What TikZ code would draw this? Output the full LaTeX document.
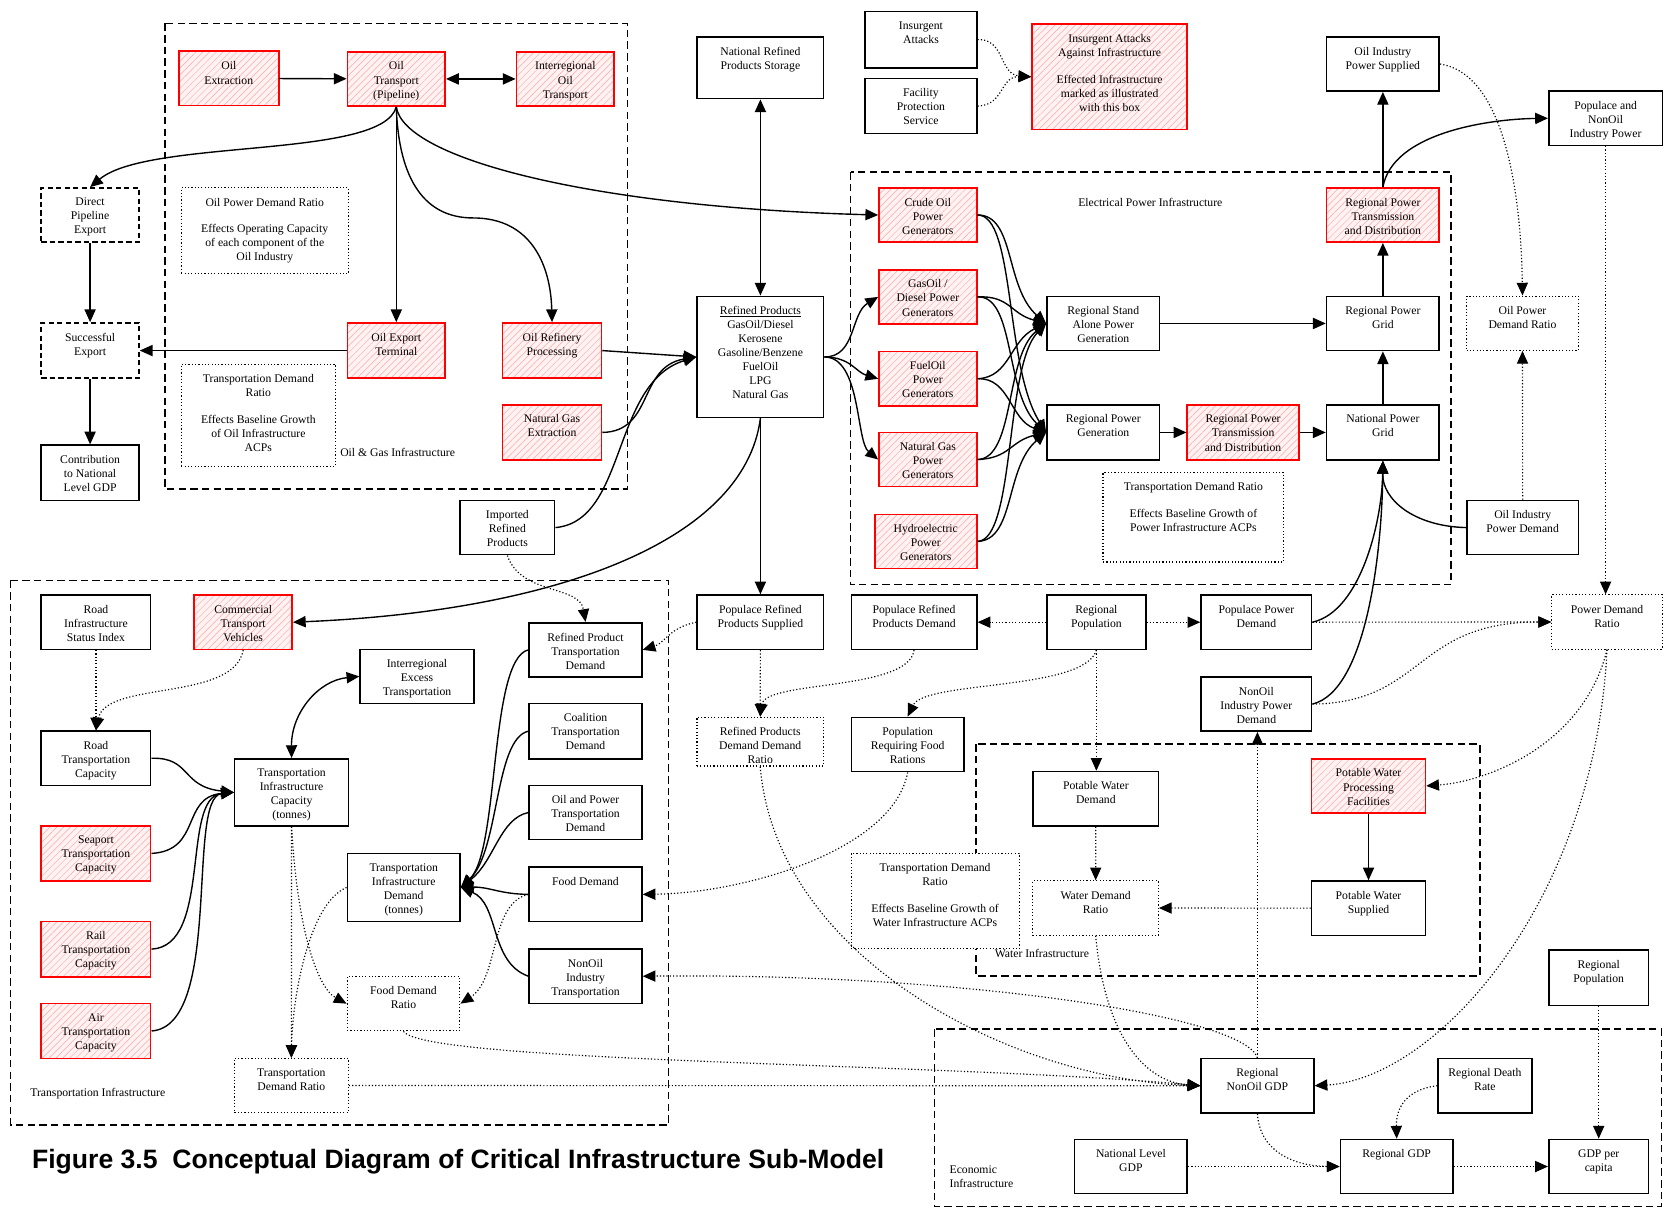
\documentclass[tikz,border=0pt]{standalone}
\usepackage{fontspec}
\setmainfont{Liberation Serif}
\newfontfamily\titlefont{Liberation Sans}
\usetikzlibrary{arrows.meta,patterns.meta}
\tikzset{
 bx/.style={draw, line width=1.5pt, fill=white, inner sep=0pt},
 rbx/.style={draw=red, line width=1.5pt, preaction={fill=red!5}, pattern={Lines[angle=45,distance=4.5pt,line width=0.45pt]}, pattern color=red!35, inner sep=0pt},
 dbx/.style={draw, line width=1.5pt, dash pattern=on 5pt off 3pt, fill=white, inner sep=0pt},
 obx/.style={draw, line width=1.1pt, dotted, fill=white, inner sep=0pt},
 txt/.style={align=center, inner sep=0pt, font=\fontsize{11}{13.2}\selectfont},
 region/.style={line width=1.4pt, dash pattern=on 7pt off 4pt},
 con/.style={line width=1.3pt, -{Triangle[length=12pt,width=10.5pt]}},
 bicon/.style={line width=1.3pt, {Triangle[length=12pt,width=10.5pt]}-{Triangle[length=12pt,width=10.5pt]}},
 dcon/.style={line width=1.1pt, dotted, -{Triangle[length=12pt,width=10.5pt]}},
}
\newcommand\bxx[7]{%
 \node[#6, anchor=north west, minimum width={(#4)-(#2)}, minimum height={(#5)-(#3)}] (#1) at (#2,#3) {};
 \node[txt, anchor=north] at ([yshift=-10pt]#1.north) {#7};}
\begin{document}
\begin{tikzpicture}[x=1pt,y=-1pt]
\useasboundingbox (0,0) rectangle (1568,1137);
% regions
\draw[region] (155,22) rectangle (590,460);
\draw[region] (800,162) rectangle (1365,550);
\draw[region] (10,546) rectangle (629,1058);
\draw[region] (918,700) rectangle (1392,918);
\draw[region] (879,968) rectangle (1563,1135);
% region labels
\node[txt] (lbloil) at (374,426) {Oil \& Gas Infrastructure};
\node[txt] (lblel) at (1082,190) {Electrical Power Infrastructure};
\node[txt] (lblwa) at (980,897) {Water Infrastructure};
\node[txt] (lbltr) at (92,1029) {Transportation Infrastructure};
\node[txt, align=left, anchor=west] (lblec) at (893,1107) {Economic\\Infrastructure};
% oil
\bxx{oe}{168}{48}{262}{99}{rbx}{Oil\\Extraction}
\bxx{ot}{326}{48}{418}{99}{rbx}{Oil\\Transport\\(Pipeline)}
\bxx{iot}{485}{48}{577}{99}{rbx}{Interregional\\Oil\\Transport}
\bxx{opdn}{170}{176}{327}{257}{obx}{Oil Power Demand Ratio\\[12pt]Effects Operating Capacity\\of each component of the\\Oil Industry}
\bxx{oet}{326}{303}{418}{355}{rbx}{Oil Export\\Terminal}
\bxx{orp}{472}{303}{565}{355}{rbx}{Oil Refinery\\Processing}
\bxx{tdn1}{170}{342}{315}{438}{obx}{Transportation Demand\\Ratio\\[12pt]Effects Baseline Growth\\of Oil Infrastructure\\ACPs}
\bxx{nge}{472}{380}{565}{432}{rbx}{Natural Gas\\Extraction}
\bxx{dpe}{38}{176}{130}{227}{dbx}{Direct\\Pipeline\\Export}
\bxx{se}{38}{303}{130}{355}{dbx}{Successful\\Export}
\bxx{cng}{38}{418}{130}{470}{bx}{Contribution\\to National\\Level GDP}
\bxx{nrps}{655}{34}{774}{92}{bx}{National Refined\\Products Storage}
\node[bx, anchor=north west, minimum width=119, minimum height=114] (rp) at (655,278) {};
\node[txt, anchor=north] (rptxt) at ([yshift=-10pt]rp.north) {\underline{Refined Products}\\GasOil/Diesel\\Kerosene\\Gasoline/Benzene\\FuelOil\\LPG\\Natural Gas};
\bxx{ia}{813}{10}{918}{63}{bx}{Insurgent\\Attacks}
\bxx{fps}{813}{73}{918}{125}{bx}{Facility\\Protection\\Service}
\bxx{iaai}{970}{22}{1116}{121}{rbx}{Insurgent Attacks\\Against Infrastructure\\[12pt]Effected Infrastructure\\marked as illustrated\\with this box}
% electrical
\bxx{cog}{826}{176}{918}{227}{rbx}{Crude Oil\\Power\\Generators}
\bxx{gog}{826}{253}{918}{304}{rbx}{GasOil /\\Diesel Power\\Generators}
\bxx{fog}{826}{330}{918}{381}{rbx}{FuelOil\\Power\\Generators}
\bxx{ngg}{826}{406}{918}{457}{rbx}{Natural Gas\\Power\\Generators}
\bxx{hyg}{822}{483}{918}{534}{rbx}{Hydroelectric\\Power\\Generators}
\bxx{rsa}{984}{278}{1090}{329}{bx}{Regional Stand\\Alone Power\\Generation}
\bxx{rpgen}{984}{380}{1090}{432}{bx}{Regional Power\\Generation}
\bxx{rptd1}{1116}{380}{1221}{432}{rbx}{Regional Power\\Transmission\\and Distribution}
\bxx{npg}{1247}{380}{1353}{432}{bx}{National Power\\Grid}
\bxx{rpgrid}{1247}{278}{1353}{329}{bx}{Regional Power\\Grid}
\bxx{rptd2}{1247}{176}{1353}{227}{rbx}{Regional Power\\Transmission\\and Distribution}
\bxx{pn}{1037}{444}{1207}{528}{obx}{Transportation Demand Ratio\\[12pt]Effects Baseline Growth of\\Power Infrastructure ACPs}
\bxx{oips}{1247}{34}{1353}{85}{bx}{Oil Industry\\Power Supplied}
\bxx{pnip}{1456}{85}{1563}{136}{bx}{Populace and\\NonOil\\Industry Power}
\bxx{opdr}{1379}{278}{1484}{329}{obx}{Oil Power\\Demand Ratio}
\bxx{oipd}{1379}{470}{1484}{521}{bx}{Oil Industry\\Power Demand}
\bxx{pdr}{1459}{559}{1563}{610}{obx}{Power Demand\\Ratio}
% middle rows
\bxx{irp}{432}{470}{521}{521}{bx}{Imported\\Refined\\Products}
\bxx{prps}{655}{559}{774}{610}{bx}{Populace Refined\\Products Supplied}
\bxx{prpd}{800}{559}{918}{610}{bx}{Populace Refined\\Products Demand}
\bxx{regpop}{984}{559}{1077}{610}{bx}{Regional\\Population}
\bxx{ppd}{1129}{559}{1233}{610}{bx}{Populace Power\\Demand}
\bxx{nipd}{1129}{636}{1233}{687}{bx}{NonOil\\Industry Power\\Demand}
\bxx{rpddr}{655}{674}{774}{720}{obx}{Refined Products\\Demand Demand\\Ratio}
\bxx{prfr}{800}{674}{906}{725}{bx}{Population\\Requiring Food\\Rations}
% water
\bxx{pwd}{971}{725}{1089}{776}{bx}{Potable Water\\Demand}
\bxx{pwpf}{1233}{713}{1340}{764}{rbx}{Potable Water\\Processing\\Facilities}
\bxx{wdr}{971}{828}{1089}{879}{obx}{Water Demand\\Ratio}
\bxx{pws}{1233}{828}{1340}{879}{bx}{Potable Water\\Supplied}
\bxx{wn}{800}{802}{958}{892}{obx}{Transportation Demand\\Ratio\\[12pt]Effects Baseline Growth of\\Water Infrastructure ACPs}
% transport
\bxx{risi}{38}{559}{141}{610}{bx}{Road\\Infrastructure\\Status Index}
\bxx{ctv}{182}{559}{274}{610}{rbx}{Commercial\\Transport\\Vehicles}
\bxx{rtc}{38}{687}{141}{738}{bx}{Road\\Transportation\\Capacity}
\bxx{sea}{38}{776}{141}{828}{rbx}{Seaport\\Transportation\\Capacity}
\bxx{rail}{38}{866}{141}{918}{rbx}{Rail\\Transportation\\Capacity}
\bxx{air}{38}{943}{141}{995}{rbx}{Air\\Transportation\\Capacity}
\bxx{iet}{338}{610}{445}{661}{bx}{Interregional\\Excess\\Transportation}
\bxx{tic}{220}{713}{327}{776}{bx}{Transportation\\Infrastructure\\Capacity\\(tonnes)}
\bxx{tid}{326}{802}{432}{866}{bx}{Transportation\\Infrastructure\\Demand\\(tonnes)}
\bxx{fdr}{326}{918}{432}{969}{obx}{Food Demand\\Ratio}
\bxx{tdr}{220}{995}{327}{1046}{obx}{Transportation\\Demand Ratio}
\bxx{rptdm}{497}{585}{603}{636}{bx}{Refined Product\\Transportation\\Demand}
\bxx{ctd}{497}{661}{603}{713}{bx}{Coalition\\Transportation\\Demand}
\bxx{optd}{497}{738}{603}{789}{bx}{Oil and Power\\Transportation\\Demand}
\bxx{fd}{497}{815}{603}{866}{bx}{Food Demand}
\bxx{noit}{497}{892}{603}{943}{bx}{NonOil\\Industry\\Transportation}
% economic
\bxx{rng}{1129}{995}{1235}{1046}{bx}{Regional\\NonOil GDP}
\bxx{rdr}{1352}{995}{1440}{1046}{bx}{Regional Death\\Rate}
\bxx{nlg}{1010}{1071}{1116}{1122}{bx}{National Level\\GDP}
\bxx{rgdp}{1260}{1071}{1366}{1122}{bx}{Regional GDP}
\bxx{gdppc}{1456}{1071}{1550}{1122}{bx}{GDP per\\capita}
\bxx{regpop2}{1456}{893}{1550}{945}{bx}{Regional\\Population}
% title
\node[anchor=west, inner sep=0pt, font=\titlefont\bfseries\fontsize{25}{30}\selectfont] (title) at (30,1093) {Figure 3.5~~Conceptual Diagram of Critical Infrastructure Sub-Model};
% ---------- connectors: oil
\draw[con] (oe) -- (ot);
\draw[bicon] (ot) -- (iot);
\draw[con] (ot.south) .. controls (360,150) and (140,130) .. (dpe.north);
\draw[con] (ot.south) -- (oet.north);
\draw[con] (ot.south) .. controls (375,170) and (400,205) .. (445,205) .. controls (500,205) and (518,250) .. (orp.north);
\draw[con] (ot.south) .. controls (380,150) and (560,195) .. (cog.west);
\draw[con] (oet.west) -- (se.east);
\draw[con] (dpe) -- (se);
\draw[con] (se) -- (cng);
\draw[con] (orp.east) -- (rp.west);
\draw[con] (nge.east) .. controls (615,406) and (600,345) .. (rp.west);
\draw[con] (irp.east) .. controls (590,490) and (575,360) .. (rp.west);
\draw[bicon] (nrps) -- (rp);
\draw[con] (rp) -- (prps);
\draw[con] (rp.south) .. controls (700,510) and (520,575) .. (ctv.east);
\draw[con] (rp.east) .. controls (805,336) and (800,295) .. (gog.west);
\draw[con] (rp.east) .. controls (800,336) and (805,350) .. (fog.west);
\draw[con] (rp.east) .. controls (810,336) and (805,415) .. (ngg.west);
% ---------- electrical
\draw[con] (cog.east) .. controls (955,202) and (945,270) .. (rsa.west);
\draw[con] (cog.east) .. controls (955,202) and (945,345) .. (rpgen.west);
\draw[con] (gog.east) .. controls (950,278) and (950,295) .. (rsa.west);
\draw[con] (gog.east) .. controls (955,278) and (945,370) .. (rpgen.west);
\draw[con] (fog.east) .. controls (950,355) and (950,320) .. (rsa.west);
\draw[con] (fog.east) .. controls (950,355) and (950,395) .. (rpgen.west);
\draw[con] (ngg.east) .. controls (955,431) and (945,335) .. (rsa.west);
\draw[con] (ngg.east) .. controls (950,431) and (950,415) .. (rpgen.west);
\draw[con] (hyg.east) .. controls (955,508) and (945,345) .. (rsa.west);
\draw[con] (hyg.east) .. controls (955,508) and (945,440) .. (rpgen.west);
\draw[con] (rsa) -- (rpgrid);
\draw[con] (rpgen) -- (rptd1);
\draw[con] (rptd1) -- (npg);
\draw[con] (npg) -- (rpgrid);
\draw[con] (rpgrid) -- (rptd2);
\draw[con] (rptd2) -- (oips);
\draw[con] (rptd2.north) .. controls (1310,125) and (1400,112) .. (pnip.west);
\draw[dcon] (oips.east) .. controls (1420,70) and (1431,200) .. (opdr.north);
\draw[dcon] (oipd) -- (opdr);
\draw[con] (oipd.west) .. controls (1330,495) and (1300,470) .. (npg.south);
\draw[con] (ppd.east) .. controls (1280,575) and (1300,490) .. (npg.south);
\draw[con] (nipd.east) .. controls (1285,650) and (1300,520) .. (npg.south);
\draw[dcon] (pnip.south) -- (pnip.south |- pdr.north);
\draw[dcon] (ppd) -- (pdr);
\draw[dcon] (nipd.east) .. controls (1340,661) and (1330,585) .. (pdr.west);
% ---------- population / water
\draw[dcon] (regpop) -- (ppd);
\draw[dcon] (regpop) -- (prpd);
\draw[dcon] (regpop.south) .. controls (1020,650) and (870,640) .. (prfr.north);
\draw[dcon] (regpop.south) -- (regpop.south |- pwd.north);
\draw[dcon] (pdr.south) .. controls (1490,700) and (1400,735) .. (pwpf.east);
\draw[dcon] (pdr.south) .. controls (1500,850) and (1350,1015) .. (rng.east);
\draw[con] (pwpf) -- (pws);
\draw[dcon] (pws) -- (wdr);
\draw[dcon] (pwd) -- (wdr);
\draw[dcon] (wdr.south) .. controls (1040,980) and (1080,1018) .. (rng.west);
\draw[dcon] (rng.north) -- (rng.north |- nipd.south);
\draw[dcon] (rng.north) .. controls (1170,955) and (900,915) .. (noit.east);
\draw[dcon] (rpddr.south) .. controls (730,900) and (950,1015) .. (rng.west);
\draw[dcon] (prfr.south) .. controls (840,800) and (700,840) .. (fd.east);
\draw[dcon] (prps) -- (rpddr);
\draw[dcon] (prpd.south) .. controls (855,650) and (720,640) .. (rpddr.north);
\draw[dcon] (prps.west) .. controls (630,590) and (625,605) .. (rptdm.east);
\draw[dcon] (irp.south) .. controls (490,560) and (545,550) .. (rptdm.north);
\draw[dcon] (fdr.south) .. controls (400,1000) and (900,1000) .. (rng.west);
\draw[dcon] (tdr) -- (rng);
% ---------- economic
\draw[dcon] (nlg) -- (rgdp);
\draw[dcon] (rgdp) -- (gdppc);
\draw[dcon] (rng.south) .. controls (1185,1085) and (1220,1097) .. (rgdp.west);
\draw[dcon] (rdr.west) .. controls (1320,1025) and (1313,1045) .. (rgdp.north);
\draw[dcon] (regpop2) -- (gdppc);
\draw[dcon] (ia.east) .. controls (945,36) and (940,70) .. (iaai.west);
\draw[dcon] (fps.east) .. controls (945,99) and (940,72) .. (iaai.west);
% ---------- transport
\draw[dcon] (risi) -- (rtc);
\draw[dcon] (ctv.south) .. controls (220,660) and (100,640) .. (rtc.north);
\draw[con] (rtc.east) .. controls (180,712) and (170,740) .. (tic.west);
\draw[con] (sea.east) .. controls (190,800) and (170,750) .. (tic.west);
\draw[con] (rail.east) .. controls (200,890) and (170,750) .. (tic.west);
\draw[con] (air.east) .. controls (210,965) and (175,750) .. (tic.west);
\draw[bicon] (tic.north) .. controls (274,670) and (300,640) .. (iet.west);
\draw[dcon] (tic.south) -- (tdr.north);
\draw[dcon] (tic.south) .. controls (280,880) and (300,930) .. (fdr.west);
\draw[dcon] (tid.west) .. controls (290,850) and (275,940) .. (tdr.north);
\draw[con] (rptdm.west) .. controls (460,620) and (470,800) .. (tid.east);
\draw[con] (ctd.west) .. controls (465,695) and (470,800) .. (tid.east);
\draw[con] (optd.west) .. controls (470,770) and (465,810) .. (tid.east);
\draw[con] (fd.west) .. controls (470,841) and (460,834) .. (tid.east);
\draw[con] (noit.west) .. controls (460,905) and (470,850) .. (tid.east);
\draw[dcon] (fd.west) .. controls (460,850) and (470,920) .. (fdr.east);
\end{tikzpicture}
\end{document}
